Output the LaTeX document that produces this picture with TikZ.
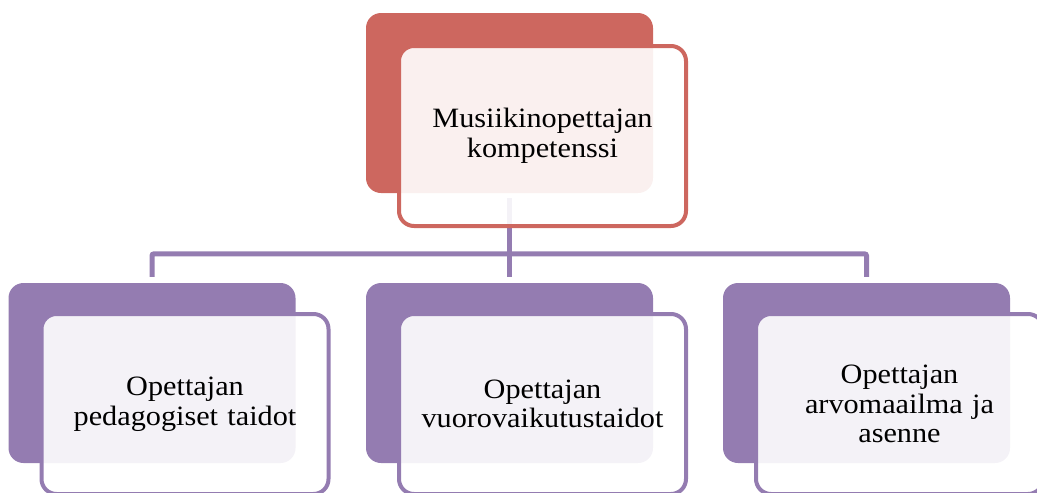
\documentclass[tikz,border=0pt]{standalone}
\usepackage{fontspec}
\setmainfont{Liberation Serif}[FakeStretch=1.08]
\definecolor{redc}{RGB}{205,103,95}
\definecolor{purc}{RGB}{148,124,177}
\begin{document}
\begin{tikzpicture}[x=1pt,y=-1pt,
  back/.style={rectangle, rounded corners=15pt, minimum width=287pt, minimum height=180pt, inner sep=0pt},
  front/.style={rectangle, rounded corners=15pt, draw, line width=4pt, fill=white, fill opacity=0.9, text opacity=1,
    minimum width=287pt, minimum height=180pt, inner sep=0pt, align=center, text width=270pt,
    font=\fontsize{28}{29.5}\selectfont},
  conn/.style={draw=purc, line width=5pt}]
\useasboundingbox (0,0) rectangle (1037,493);
% back boxes
\node[back, fill=redc] (tb) at (509.5,103) {};
\node[back, fill=purc] (lb) at (152,373) {};
\node[back, fill=purc] (mb) at (509.5,373) {};
\node[back, fill=purc] (rb) at (866.5,373) {};
% connectors
\draw[conn] ([yshift=-5pt]tb.south) -- ([yshift=6pt]mb.north);
\draw[conn, rounded corners=2pt] ([yshift=6pt]lb.north) -- ++(0,-23) -| ([yshift=6pt]rb.north);
% front boxes
\node[front, draw=redc] (tf) at (542.5,136) {Musiikinopettajan\\kompetenssi};
\node[front, draw=purc] (lf) at (185,404) {Opettajan\\pedagogiset taidot};
\node[front, draw=purc] (mf) at (542.5,404) {Opettajan\\vuorovaikutustaidot};
\node[front, draw=purc] (rf) at (899.5,404) {Opettajan\\arvomaailma ja\\asenne};
\end{tikzpicture}
\end{document}
